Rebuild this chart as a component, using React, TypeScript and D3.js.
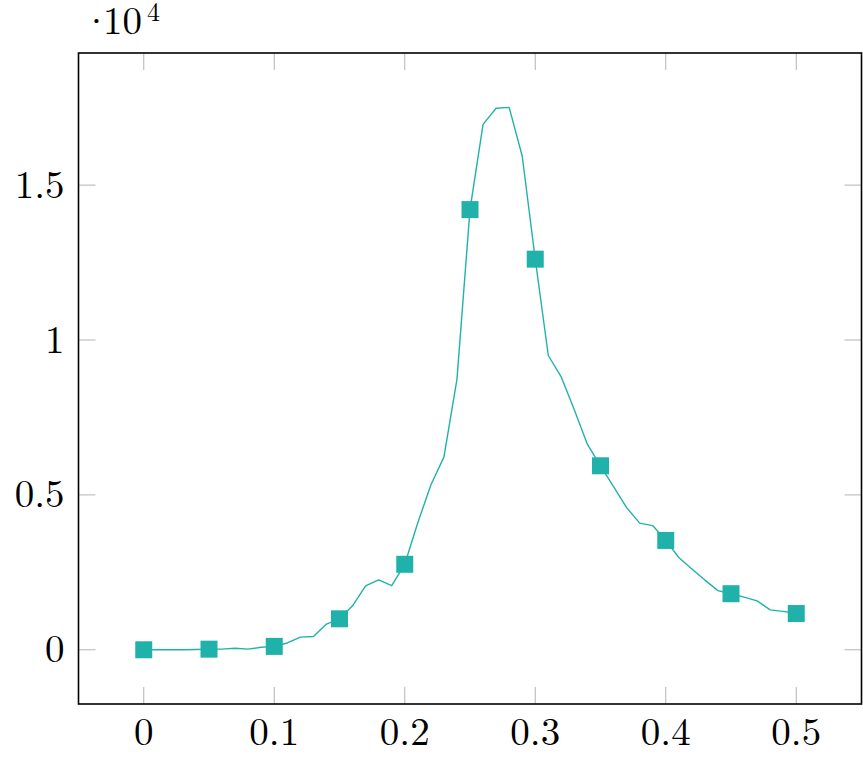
import React, { useEffect, useRef } from "react"
import * as d3 from "d3"

// x positions of the sampled line (every 0.01)
const xValues = [
  0, 0.01, 0.02, 0.03, 0.04, 0.05, 0.06, 0.07, 0.08, 0.09,
  0.1, 0.11, 0.12, 0.13, 0.14, 0.15, 0.16, 0.17, 0.18, 0.19,
  0.2, 0.21, 0.22, 0.23, 0.24, 0.25, 0.26, 0.27, 0.28, 0.29,
  0.3, 0.31, 0.32, 0.33, 0.34, 0.35, 0.36, 0.37, 0.38, 0.39,
  0.4, 0.41, 0.42, 0.43, 0.44, 0.45, 0.46, 0.47, 0.48, 0.49, 0.5,
]
// y values in units of 10^4
const yValues = [
  0, 0, 0, 0, 0.001, 0.002, 0.002, 0.005, 0.002, 0.008,
  0.011, 0.022, 0.041, 0.043, 0.083, 0.1, 0.142, 0.206, 0.226, 0.207,
  0.276, 0.41, 0.532, 0.622, 0.873, 1.421, 1.696, 1.748, 1.751, 1.594,
  1.261, 0.95, 0.88, 0.774, 0.663, 0.594, 0.527, 0.459, 0.409, 0.401,
  0.353, 0.298, 0.261, 0.225, 0.191, 0.181, 0.17, 0.158, 0.129, 0.124, 0.117,
]
// markers sit on every fifth sample
const markerXs = [0, 0.05, 0.1, 0.15, 0.2, 0.25, 0.3, 0.35, 0.4, 0.45, 0.5]

const xTicks = [0, 0.1, 0.2, 0.3, 0.4, 0.5]
const yTicks = [0, 0.5, 1, 1.5]

const COLOR = "#20b2aa"
const FONT = "'Latin Modern Roman', 'Liberation Serif', serif"

function Chart() {
  const svgRef = useRef<SVGSVGElement | null>(null)

  useEffect(() => {
    const width = 863
    const height = 758
    const left = 78.5
    const right = 861.5
    const top = 53
    const bottom = 704
    const tickLen = 17

    const svg = d3.select(svgRef.current)
    svg.selectAll("*").remove()
    svg.attr("width", width).attr("height", height)

    const x = d3.scaleLinear().domain([-0.05, 0.55]).range([left, right])
    const y = d3.scaleLinear().domain([-0.175, 1.9265]).range([bottom, top])

    // ticks (inside, both sides)
    const g = svg.append("g").attr("stroke", "#b3b3b3").attr("stroke-width", 1)
    xTicks.forEach((t) => {
      g.append("line").attr("x1", x(t)).attr("x2", x(t)).attr("y1", bottom).attr("y2", bottom - tickLen)
      g.append("line").attr("x1", x(t)).attr("x2", x(t)).attr("y1", top).attr("y2", top + tickLen)
    })
    yTicks.forEach((t) => {
      g.append("line").attr("x1", left).attr("x2", left + tickLen).attr("y1", y(t)).attr("y2", y(t))
      g.append("line").attr("x1", right).attr("x2", right - tickLen).attr("y1", y(t)).attr("y2", y(t))
    })

    // tick labels
    svg.append("g")
      .selectAll("text")
      .data(xTicks)
      .join("text")
      .attr("x", (d) => x(d))
      .attr("y", 745)
      .attr("text-anchor", "middle")
      .style("font-family", FONT)
      .style("font-size", "39px")
      .text((d) => String(d))

    svg.append("g")
      .selectAll("text")
      .data(yTicks)
      .join("text")
      .attr("x", left - 14)
      .attr("y", (d) => y(d) + 12.5)
      .attr("text-anchor", "end")
      .style("font-family", FONT)
      .style("font-size", "39px")
      .text((d) => String(d))

    // scale label ·10^4
    const lab = svg.append("text")
      .attr("y", 34)
      .style("font-family", FONT)
      .style("font-size", "39px")
    lab.append("tspan").attr("x", 96.5).attr("text-anchor", "middle").text("\u00b7")
    lab.append("tspan").attr("x", 103).attr("text-anchor", "start").text("10")
    lab.append("tspan").attr("x", 147).attr("dy", -13).attr("text-anchor", "start")
      .style("font-size", "26px").text("4")

    // line
    const pts = xValues.map((v, i) => [v, yValues[i]] as [number, number])
    const line = d3.line<[number, number]>().x((d) => x(d[0])).y((d) => y(d[1]))
    svg.append("path")
      .datum(pts)
      .attr("d", line)
      .attr("fill", "none")
      .attr("stroke", COLOR)
      .attr("stroke-width", 1.4)
      .attr("stroke-linejoin", "round")

    // markers
    const ms = 17
    const marks = markerXs.map((mx) => {
      const i = xValues.findIndex((v) => Math.abs(v - mx) < 1e-9)
      return [mx, yValues[i]] as [number, number]
    })
    svg.append("g")
      .selectAll("rect")
      .data(marks)
      .join("rect")
      .attr("x", (d) => x(d[0]) - ms / 2)
      .attr("y", (d) => y(d[1]) - ms / 2)
      .attr("width", ms)
      .attr("height", ms)
      .attr("fill", COLOR)

    // axis box
    svg.append("rect")
      .attr("x", left)
      .attr("y", top)
      .attr("width", right - left)
      .attr("height", bottom - top)
      .attr("fill", "none")
      .attr("stroke", "#000")
      .attr("stroke-width", 1.6)
  }, [])

  return <svg ref={svgRef} style={{ position: "absolute", left: 0, top: 0, display: "block" }} />
}

export default function App() {
  return <Chart />
}
